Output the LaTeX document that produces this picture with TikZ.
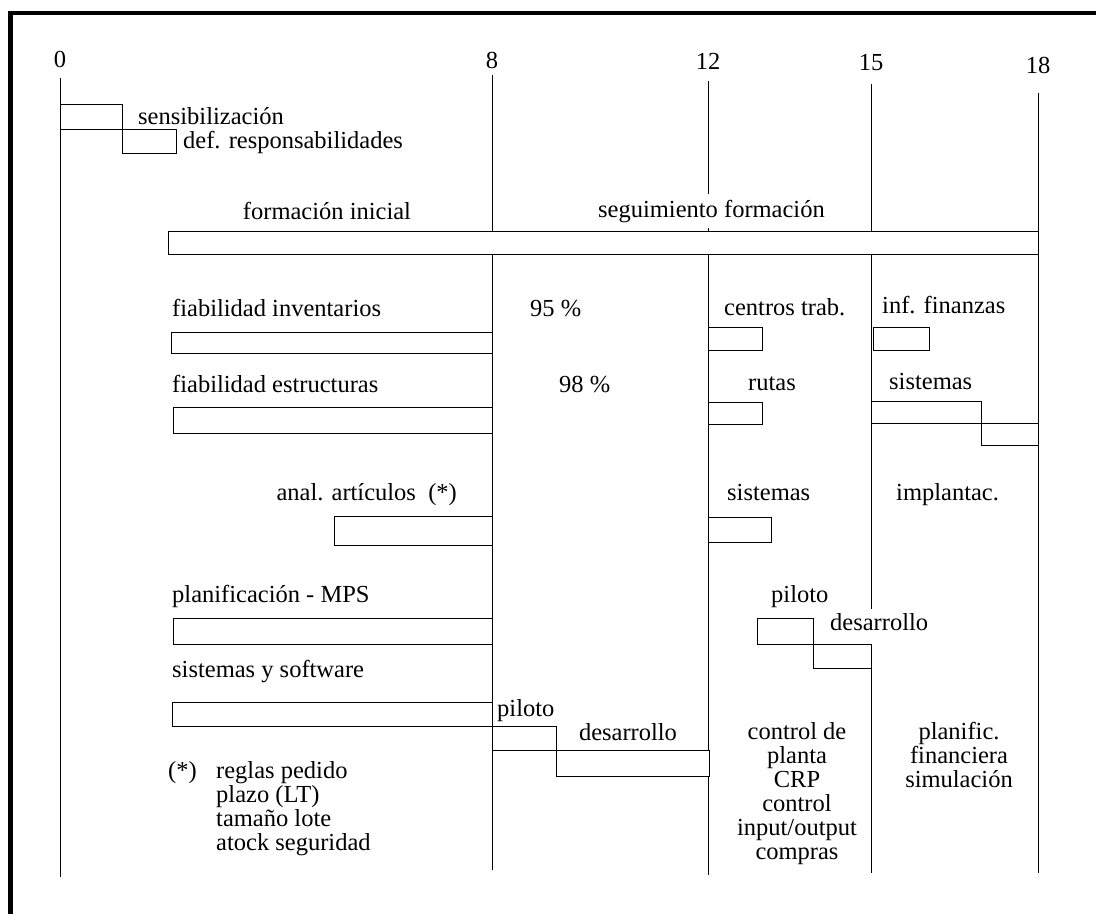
\documentclass[tikz,border=0pt]{standalone}
\usepackage{fontspec}
\setmainfont{Liberation Serif}
\begin{document}
\begin{tikzpicture}[x=1pt,y=-1pt,
  every node/.style={font=\fontsize{24.5}{24}\selectfont},
  frame/.style={line width=4.6pt},
  axis/.style={line width=0.9pt},
  task/.style={draw, line width=0.9pt, fill=white},
  lbl/.style={anchor=base west, inner sep=0pt},
  lblc/.style={anchor=base, inner sep=0pt},
  lble/.style={anchor=base east, inner sep=0pt},
  mask/.style={fill=white, inner xsep=1pt, inner ysep=5pt},
  stack/.style={anchor=base, align=center, inner sep=0pt}]
\useasboundingbox (0,0) rectangle (1096,914);

% outer frame (left and top edges)
\draw[frame] (10.5,11) -- (10.5,914);
\draw[frame] (8,13) -- (1096,13);

% month scale
\node[lblc] (m0)  at (60,67)   {0};
\node[lblc] (m8)  at (492,68)  {8};
\node[lblc] (m12) at (708,69)  {12};
\node[lblc] (m15) at (871,70)  {15};
\node[lblc] (m18) at (1038,73) {18};
\draw[axis] (60,78)   -- (60,877);
\draw[axis] (492,75)  -- (492,870);
\draw[axis] (708,81)  -- (708,875);
\draw[axis] (871,84)  -- (871,873);
\draw[axis] (1038,93) -- (1038,873);

% start-up
\draw[task] (60,104) rectangle (122,129);
\draw[task] (122,129) rectangle (176,153);
\node[lbl] (sens) at (138,124) {sensibilización};
\node[lbl] (resp) at (183,148) {def. responsabilidades};

% training
\draw[task] (168,231) rectangle (1038,254);
\node[lblc] (forini) at (327,219) {formación inicial};
\node[lbl, mask, inner ysep=6pt] (forseg) at (597,217) {seguimiento formación};

% inventories
\draw[task] (171,332) rectangle (492,353);
\node[lbl] (finv) at (172,316) {fiabilidad inventarios};
\node[lbl] (p95) at (530,316) {95 \%};
\draw[task] (708,327) rectangle (762,350);
\node[lbl] (ctrab) at (724,315) {centros trab.};
\draw[task] (873,327) rectangle (929,350);
\node[lbl] (ifin) at (882,313) {inf. finanzas};

% structures
\draw[task] (173,407) rectangle (492,433);
\node[lbl] (fest) at (172,392) {fiabilidad estructuras};
\node[lbl] (p98) at (559,392) {98 \%};
\draw[task] (708,402) rectangle (762,424);
\node[lbl] (rutas) at (748,390) {rutas};
\draw[task] (871,401) rectangle (981,423);
\draw[task] (981,423) rectangle (1038,445);
\node[lbl] (sist15) at (889,389) {sistemas};

% item analysis
\draw[task] (334,516) rectangle (492,545);
\node[lble] (anal) at (457,500) {anal. artículos\ \ (*)};
\draw[task] (708,517) rectangle (771,542);
\node[lbl] (sist12) at (727,500) {sistemas};
\node[lbl] (impl) at (896,500) {implantac.};

% planning
\draw[task] (173,618) rectangle (492,644);
\node[lbl] (mps) at (172,602) {planificación - MPS};
\draw[task] (757,618) rectangle (813,644);
\draw[task] (813,644) rectangle (871,668);
\node[lbl] (pil13) at (771,602) {piloto};
\node[lbl, mask, inner ysep=4pt, text depth=10pt] (des15) at (829,630) {desarrollo};

% systems and software
\draw[task] (172,702) rectangle (492,726);
\node[lbl] (sysw) at (172,677) {sistemas y software};
\draw[task] (492,726) rectangle (556,750);
\draw[task] (556,750) rectangle (709,776);
\node[lbl] (pil8) at (497,716) {piloto};
\node[lblc] (des8) at (628,740) {desarrollo};

% note on item analysis
\node[lbl] (ast) at (168,778) {(*)};
\node[lbl] (n1) at (216,778) {reglas pedido};
\node[lbl] (n2) at (216,802) {plazo (LT)};
\node[lbl] (n3) at (216,826) {tamaño lote};
\node[lbl] (n4) at (216,850) {atock seguridad};

% later modules (base anchor sits on the last line)
\node[stack] (shop) at (797,859) {control de\\planta\\CRP\\control\\input/output\\compras};
\node[stack] (fin) at (959,787) {planific.\\financiera\\simulación};
\end{tikzpicture}
\end{document}
